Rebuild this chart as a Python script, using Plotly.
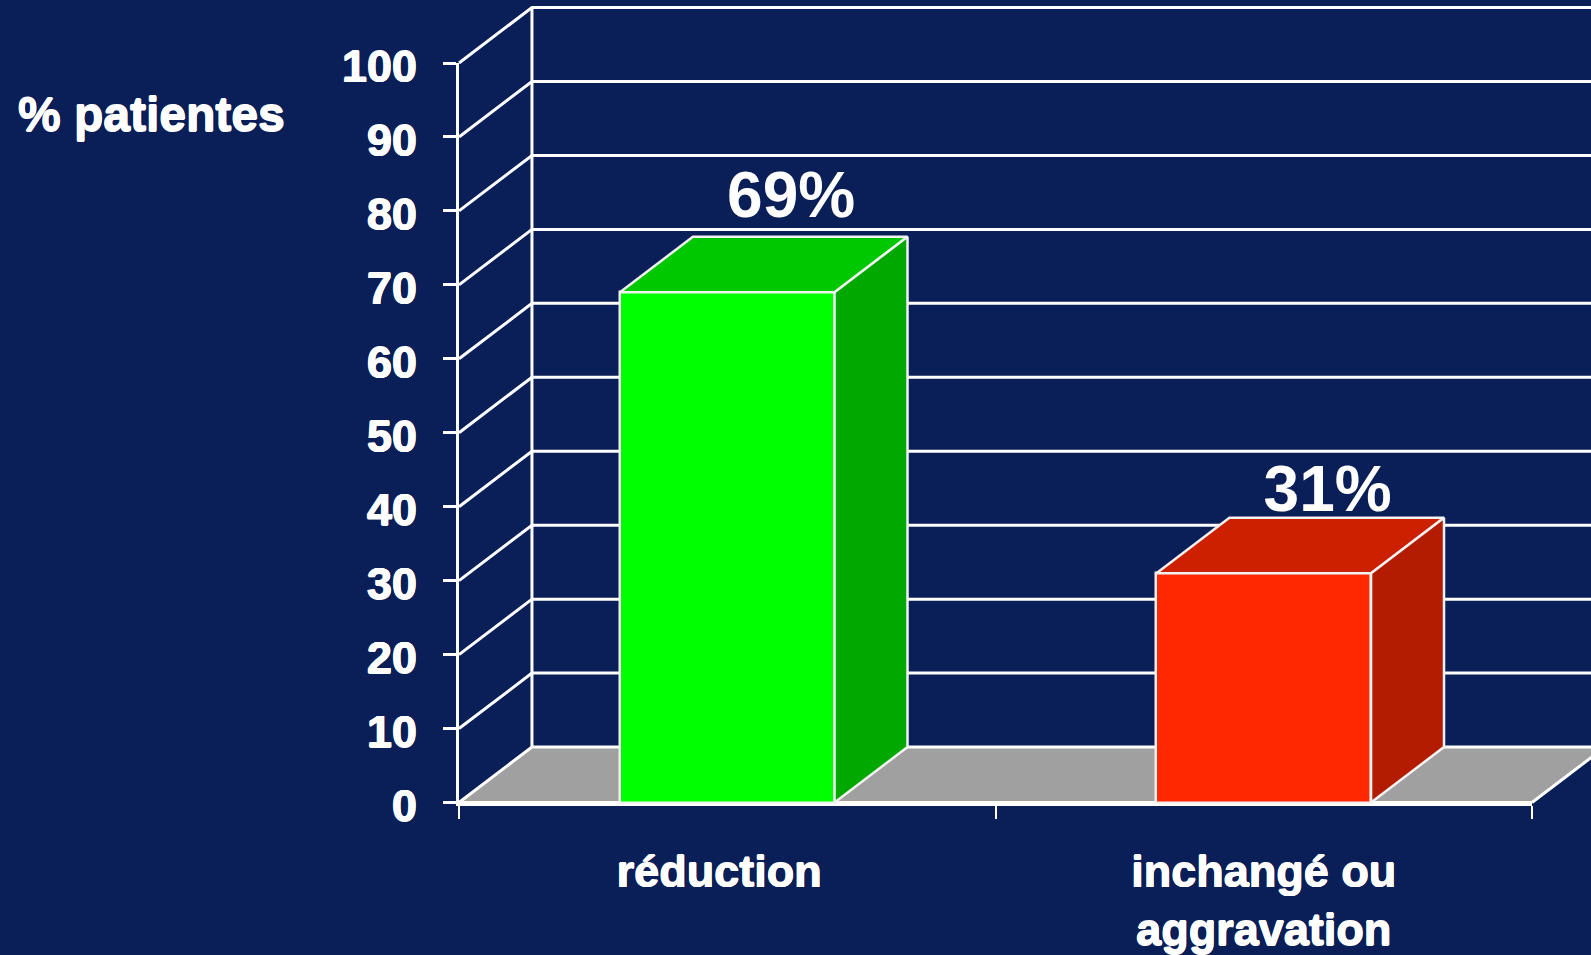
import plotly.graph_objects as go

# ---- data ----
categories = ["réduction", "inchangé ou<br>aggravation"]
values = [69, 31]
bar_x = [0.5, 1.5]
label_x = [0.485, 1.5]
value_label_y = [81.4, 41.6]
y_ticks = [0, 10, 20, 30, 40, 50, 60, 70, 80, 90, 100]
x_ticks = [0, 1, 2]

front_colors = ["#00FF00", "#FF2800"]
top_colors = ["#00C800", "#CC2000"]
side_colors = ["#00A800", "#B31C00"]

BG = "#0A1E58"
FLOOR = "#A0A0A0"
WHITE = "#FFFFFF"
EDGE = "#F2F2F2"
FONT = "Liberation Sans, Arial, sans-serif"
HEAVY = "0.6px 0 0 #FFFFFF, -0.6px 0 0 #FFFFFF, 0 0.6px 0 #FFFFFF, 0 -0.6px 0 #FFFFFF"

# page geometry of the front plane (pixels)
W, H = 1591, 955
LEFT, RIGHT, TOP, BOTTOM = 459, 1532, 63, 802.5
X_MAX, Y_MAX = 2, 100
px_x = (RIGHT - LEFT) / X_MAX
px_y = (BOTTOM - TOP) / Y_MAX
page_x = [-LEFT / px_x, (W - LEFT) / px_x]
page_y = [-(H - BOTTOM) / px_y, BOTTOM / px_y]

# oblique depth of the 3-D box, in axis units
DX = 0.136
DY = 7.5
BAR_W = 0.4

fig = go.Figure()

# the axes proper (ticks, labels, front lines)
fig.add_trace(go.Scatter(x=[0, X_MAX], y=[0, Y_MAX], mode="lines", opacity=0,
                         line=dict(width=0), hoverinfo="skip", showlegend=False))


def poly(xs, ys, fill, axes=("x2", "y2"), line_w=0, line_color=WHITE):
    fig.add_trace(go.Scatter(
        x=xs, y=ys, mode="lines", fill="toself" if fill else None, fillcolor=fill,
        line=dict(color=line_color, width=line_w),
        hoverinfo="skip", showlegend=False, xaxis=axes[0], yaxis=axes[1]))


# floor
poly([0, DX, X_MAX + DX, X_MAX, 0], [0, DY, DY, 0, 0], FLOOR)
poly([X_MAX, X_MAX + DX], [0, DY], None, line_w=3)

# back-wall gridlines and side-wall diagonals
for v in y_ticks:
    poly([X_MAX + DX, DX, 0], [v + DY, v + DY, v], None, line_w=3)
poly([DX, DX], [DY, Y_MAX + DY], None, line_w=3)
poly([0, X_MAX], [0, 0], None, line_w=3)

# bars sit on an overlaid pair of axes, so that they are over the floor
over = ("x3", "y3")
fig.add_trace(go.Bar(
    x=bar_x, y=values, width=BAR_W, xaxis="x3", yaxis="y3",
    marker=dict(color=front_colors, line=dict(color=EDGE, width=2.5)),
    hoverinfo="skip", showlegend=False))

for cx, v, tc, sc in zip(bar_x, values, top_colors, side_colors):
    l, r = cx - BAR_W / 2, cx + BAR_W / 2
    poly([l, l + DX, r + DX, r, l], [v, v + DY, v + DY, v, v], tc, over, 2.5, EDGE)
    poly([r, r + DX, r + DX, r, r], [0, DY, v + DY, v, 0], sc, over, 2.5, EDGE)

fig.add_trace(go.Scatter(
    x=[c + 0.119 for c in bar_x], y=value_label_y,
    text=[f"{v}%" for v in values], mode="text", textposition="middle center",
    textfont=dict(family=FONT, size=64, color=WHITE, weight="bold"),
    hoverinfo="skip", showlegend=False, xaxis="x3", yaxis="y3"))

fig.update_layout(
    width=W, height=H,
    margin=dict(l=0, r=0, t=0, b=0, pad=0, autoexpand=False),
    paper_bgcolor=BG, plot_bgcolor="rgba(0,0,0,0)", showlegend=False, bargap=0,
    font=dict(family=FONT, color=WHITE),
    xaxis=dict(
        domain=[LEFT / W, RIGHT / W], anchor="y",
        range=[0, X_MAX], tickmode="array", tickvals=label_x, ticktext=categories,
        ticks="", showgrid=False, zeroline=False, showline=True, linecolor=WHITE, linewidth=3,
        tickfont=dict(family=FONT, size=45, color=WHITE, weight="bold", shadow=HEAVY),
        ticklabelstandoff=27,
        minor=dict(tickmode="array", tickvals=x_ticks, ticks="outside", ticklen=13,
                   tickwidth=2, tickcolor=WHITE, showgrid=False)),
    yaxis=dict(
        domain=[(H - BOTTOM) / H, (H - TOP) / H], anchor="x",
        range=[0, Y_MAX], tickmode="array", tickvals=y_ticks,
        ticks="outside", ticklen=13, tickwidth=3, tickcolor=WHITE,
        showgrid=False, zeroline=False, showline=True, linecolor=WHITE, linewidth=3,
        tickfont=dict(family=FONT, size=45, color=WHITE, weight="bold", shadow=HEAVY),
        ticklabelstandoff=17, ticklabelshift=3),
    xaxis2=dict(domain=[0, 1], range=page_x, anchor="y2", visible=False),
    yaxis2=dict(domain=[0, 1], range=page_y, anchor="x2", visible=False),
    xaxis3=dict(domain=[0, 1], range=page_x, overlaying="x2", anchor="y3", visible=False),
    yaxis3=dict(domain=[0, 1], range=page_y, overlaying="y2", anchor="x3", visible=False),
    annotations=[dict(
        text="% patientes", xref="paper", yref="paper",
        x=16 / W, y=1 - 115 / H, xanchor="left", yanchor="middle",
        showarrow=False, font=dict(family=FONT, size=48, color=WHITE, weight="bold", shadow=HEAVY))],
)

fig.write_html("out.html", config=dict(displayModeBar=False),
               post_script="document.body.style.margin='0';document.body.style.overflow='hidden';document.body.style.background='%s';" % BG)
